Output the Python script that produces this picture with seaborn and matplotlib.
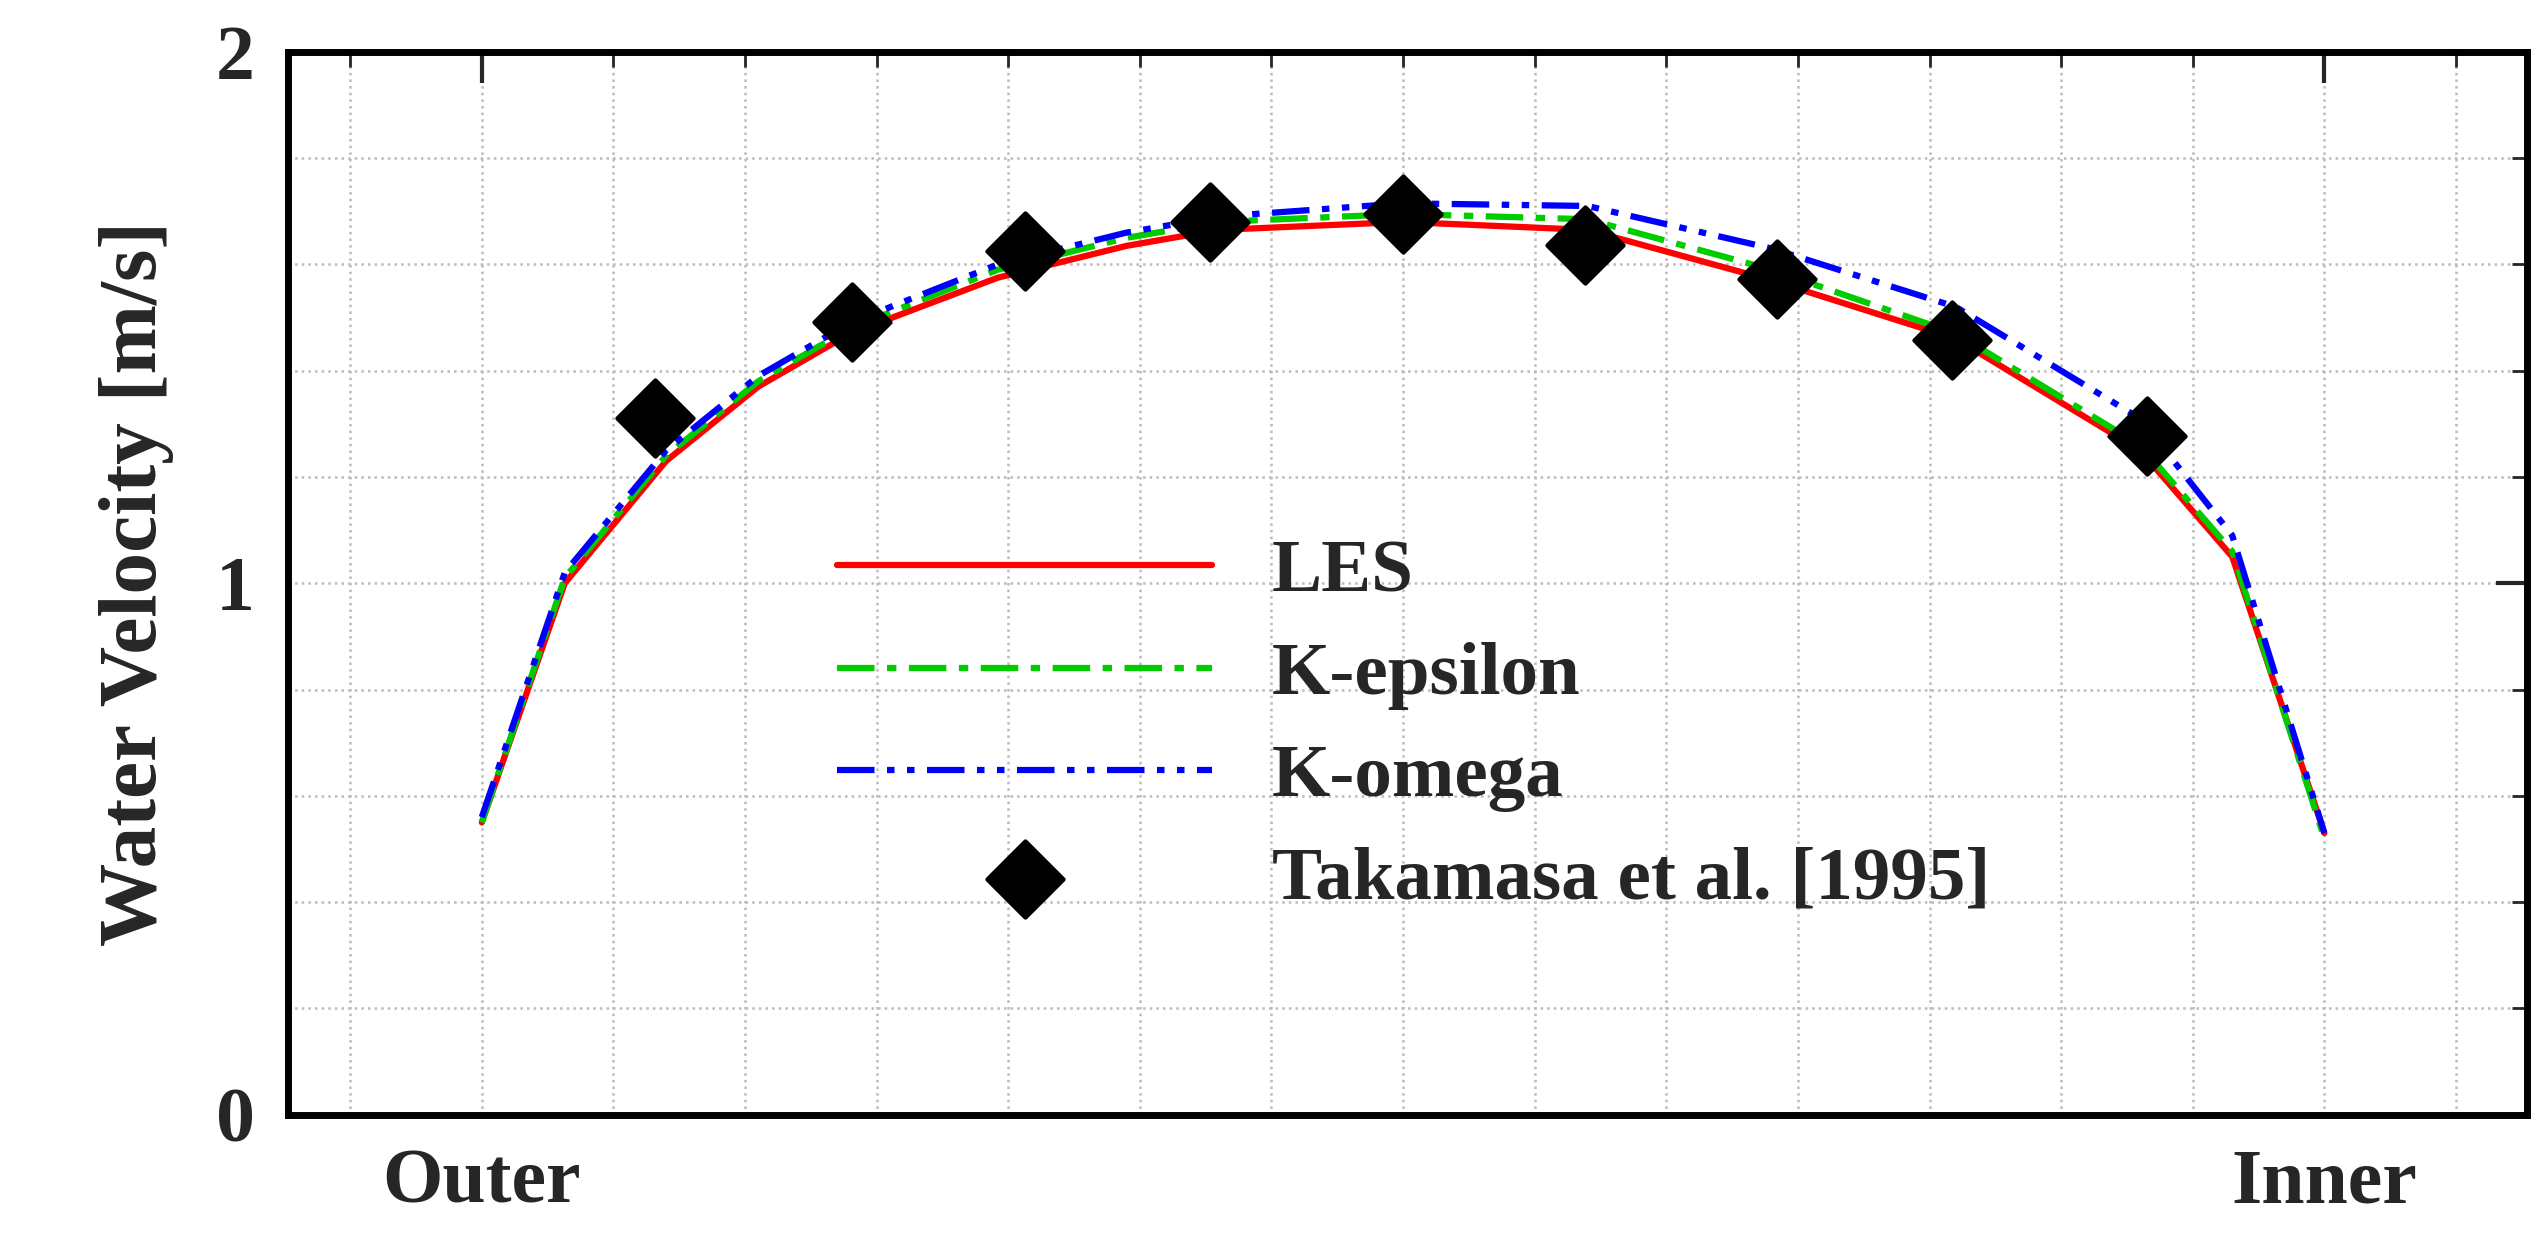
import numpy as np
import matplotlib
matplotlib.use("Agg")
import matplotlib.pyplot as plt
import seaborn as sns

sns.set_style("white")
plt.rcParams['font.family'] = ['Liberation Serif', 'DejaVu Serif']
plt.rcParams['font.weight'] = 'bold'

pos = [0.0, 0.045, 0.1, 0.15, 0.2, 0.28, 0.35, 0.4, 0.5, 0.6, 0.7, 0.8, 0.9, 0.95, 1.0]
les = [0.55, 1.0, 1.23, 1.37, 1.47, 1.575, 1.635, 1.665, 1.68, 1.665, 1.57, 1.46, 1.25, 1.05, 0.53]
keps = [0.55, 1.01, 1.24, 1.38, 1.48, 1.59, 1.65, 1.68, 1.695, 1.685, 1.59, 1.47, 1.26, 1.06, 0.52]
komg = [0.56, 1.02, 1.25, 1.39, 1.49, 1.60, 1.66, 1.69, 1.715, 1.71, 1.63, 1.52, 1.31, 1.09, 0.53]
exp_x = [0.094, 0.201, 0.295, 0.395, 0.5, 0.599, 0.703, 0.798, 0.904]
exp_v = [1.311, 1.491, 1.625, 1.68, 1.695, 1.637, 1.573, 1.457, 1.277]
xtick_labels = ["Outer", "Inner"]

W, H = 1568, 761
fig = plt.figure(figsize=(25.4, 12.33), dpi=100)
ax = fig.add_axes([178/W, 1-688/H, (1560-178)/W, (688-32)/H])

sns.lineplot(x=pos, y=les, ax=ax, color='red', lw=4.5, label='LES')
sns.lineplot(x=pos, y=keps, ax=ax, color='#00cc00', lw=4.5, label='K-epsilon')
ax.lines[-1].set_dashes([6, 2, 1.5, 2])
sns.lineplot(x=pos, y=komg, ax=ax, color='blue', lw=4.5, label='K-omega')
ax.lines[-1].set_dashes([6, 2, 1.2, 2, 1.2, 2])
sns.scatterplot(x=exp_x, y=exp_v, ax=ax, marker='D', s=1500, color='black', edgecolor='black',
                label='Takamasa et al. [1995]', zorder=5)

ax.set_xlim(-0.105, 1.11)
ax.set_ylim(0, 2)
ax.set_xticks([0, 1])
ax.set_xticklabels(xtick_labels)
ax.set_xticks([x / 14 for x in range(-1, 16)], minor=True)
ax.set_yticks([0, 1, 2])
ax.set_yticks(np.arange(0, 2.01, 0.2), minor=True)
ax.grid(True, which='both', color='#bbbbbb', linestyle=':', lw=1.8)
ax.tick_params(axis='both', which='both', direction='in', top=True, right=True)
ax.tick_params(which='major', length=22, width=3, labelsize=56, pad=24)
ax.tick_params(which='minor', length=11, width=2)
for lab in ax.get_xticklabels() + ax.get_yticklabels():
    lab.set_fontweight('bold')
for s in ax.spines.values():
    s.set_linewidth(5)
    s.set_color('black')
ax.set_ylabel('Water Velocity [m/s]', fontsize=60, fontweight='bold', labelpad=30)

ax.legend(loc='center left', bbox_to_anchor=(0.215, 0.365), frameon=False,
          handlelength=5.0, labelspacing=0.45, handletextpad=0.8,
          prop={'weight': 'bold', 'size': 54})
fig.savefig('out.png', dpi=100)
